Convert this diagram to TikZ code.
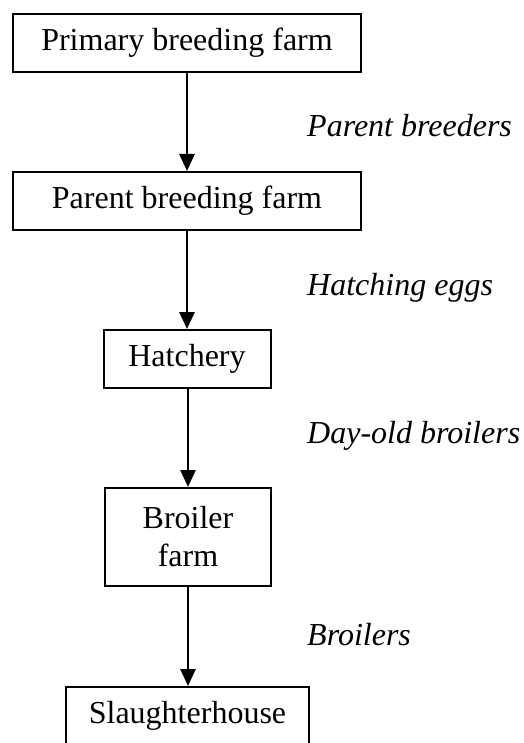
\documentclass[tikz,border=0pt]{standalone}
\usepackage{fontspec}
\setmainfont{Liberation Serif}
\usetikzlibrary{arrows.meta}
\begin{document}
\begin{tikzpicture}[x=1pt,y=1pt,
  box/.style={draw, line width=2pt, inner sep=0pt, align=center,
    font=\fontsize{32}{38}\selectfont},
  flow/.style={line width=2.8pt, -{Triangle[length=17pt,width=15pt]}},
  lbl/.style={anchor=base west, inner sep=0pt, font=\fontsize{32}{38}\selectfont\itshape}]
\useasboundingbox (0,0) rectangle (523,-743);
\node[box, minimum width=348pt, minimum height=58pt] (b1) at (187,-43) {Primary breeding farm};
\node[box, minimum width=348pt, minimum height=58pt] (b2) at (187,-201) {Parent breeding farm};
\node[box, minimum width=167pt, minimum height=58pt] (b3) at (187,-359) {Hatchery};
\node[box, minimum width=166pt, minimum height=98pt] (b4) at (188,-537) {Broiler\\farm};
\node[box, minimum width=243pt, minimum height=58pt] (b5) at (187.5,-716) {Slaughterhouse};
\draw[flow] (b1.south) -- (b2.north);
\draw[flow] (b2.south) -- (b3.north);
\draw[flow] (b3.south -| b4.north) -- (b4.north);
\draw[flow] (b4.south) -- (b4.south |- b5.north);
\node[lbl] (l1) at (307,-137) {Parent breeders};
\node[lbl] (l2) at (307,-295) {Hatching eggs};
\node[lbl] (l3) at (307,-443) {Day-old broilers};
\node[lbl] (l4) at (307,-645) {Broilers};
\end{tikzpicture}
\end{document}
